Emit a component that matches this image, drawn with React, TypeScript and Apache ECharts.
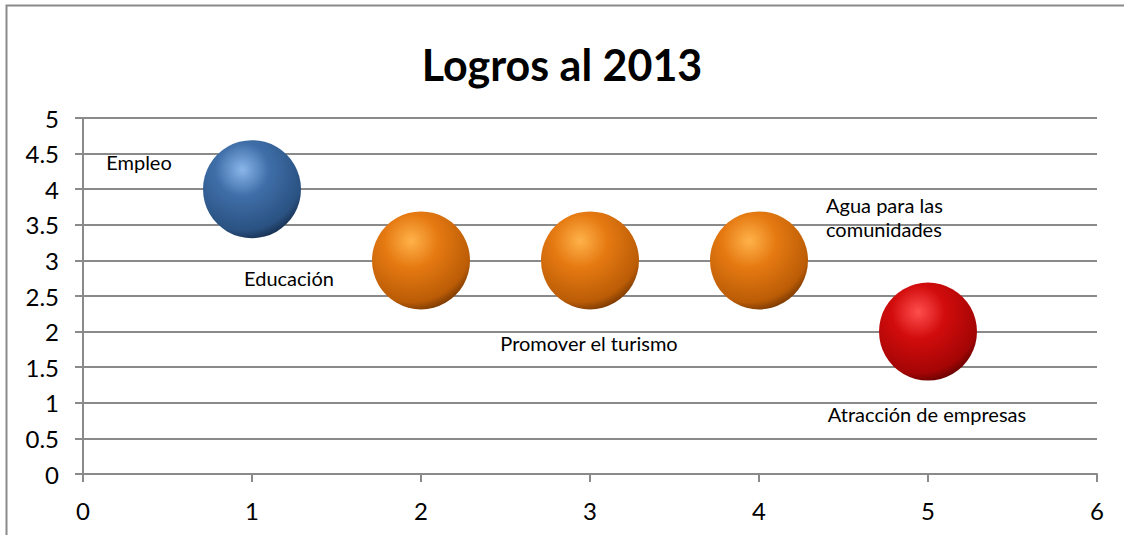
import React, { useEffect, useRef } from "react";
import * as echarts from "echarts";

const titleText = "Logros al 2013";
const names = ["Empleo", "Educación", "Promover el turismo", "Agua para las\ncomunidades", "Atracción de empresas"];
const xValues = [1, 2, 3, 4, 5];
const yValues = [4, 3, 3, 3, 2];
const colorKeys = ["blue", "orange", "orange", "orange", "red"];

const labelOffsets: [number, number, string][] = [
  [-113, -27, "center"],
  [-132, 18, "center"],
  [-1, 83, "center"],
  [67, -43, "left"],
  [-1, 82, "center"],
];

const palettes: Record<string, string[]> = {
  blue: ["#8ab6ea", "#3f6ea8", "#2a5282", "#0f1f38"],
  orange: ["#ffb24a", "#e67a12", "#bb5c06", "#5a2800"],
  red: ["#ff4e4e", "#d20c0c", "#a40505", "#4a0000"],
};

function sphere(key: string) {
  const p = palettes[key];
  return new echarts.graphic.RadialGradient(0.4, 0.3, 0.78, [
    { offset: 0, color: p[0] },
    { offset: 0.35, color: p[1] },
    { offset: 0.8, color: p[2] },
    { offset: 1, color: p[3] },
  ]);
}

export default function App() {
  const ref = useRef<HTMLDivElement>(null);
  useEffect(() => {
    if (!ref.current) return;
    const chart = echarts.init(ref.current, null, { renderer: "svg" });
    const font = "Lato";
    const data = xValues.map((x, i) => ({
      value: [x, yValues[i]],
      name: names[i],
      itemStyle: { color: sphere(colorKeys[i]), opacity: 1 },
      label: {
        show: true,
        position: "inside",
        offset: [labelOffsets[i][0], labelOffsets[i][1]],
        align: labelOffsets[i][2],
        formatter: names[i],
        color: "#000",
        textBorderWidth: 0,
        fontFamily: font,
        fontSize: 20,
        lineHeight: 24,
      },
    }));
    chart.setOption({
      animation: false,
      backgroundColor: "#fff",
      title: {
        text: titleText,
        left: "center",
        top: 38,
        textStyle: { fontFamily: font, fontWeight: "bold", fontSize: 43, color: "#000" },
      },
      graphic: [
        {
          type: "rect",
          z: -10,
          shape: { x: 6.5, y: 5.5, width: 1140, height: 560 },
          style: { fill: "none", stroke: "#8a8a8a", lineWidth: 2 },
        },
      ],
      grid: { left: 83, right: 27, top: 118, bottom: 61, containLabel: false },
      xAxis: {
        type: "value",
        min: 0,
        max: 6,
        interval: 1,
        axisLine: { show: true, lineStyle: { color: "#8a8a8a", width: 2 } },
        axisTick: { show: true, length: 8, lineStyle: { color: "#8a8a8a", width: 2 } },
        splitLine: { show: false },
        axisLabel: { color: "#000", fontFamily: font, fontSize: 24, margin: 24 },
      },
      yAxis: {
        type: "value",
        min: 0,
        max: 5,
        interval: 0.5,
        axisLine: { show: true, lineStyle: { color: "#8a8a8a", width: 2 } },
        axisTick: { show: true, length: 8, lineStyle: { color: "#8a8a8a", width: 2 } },
        splitLine: { show: true, lineStyle: { color: "#8a8a8a", width: 2 } },
        axisLabel: { color: "#000", fontFamily: font, fontSize: 24, margin: 24 },
      },
      series: [
        {
          type: "scatter",
          symbol: "circle",
          symbolSize: 98,
          data,
          z: 3,
        },
      ],
    });
    return () => chart.dispose();
  }, []);
  return (
    <div
      ref={ref}
      style={{ position: "absolute", left: 0, top: 0, width: 1124, height: 535 }}
    />
  );
}
